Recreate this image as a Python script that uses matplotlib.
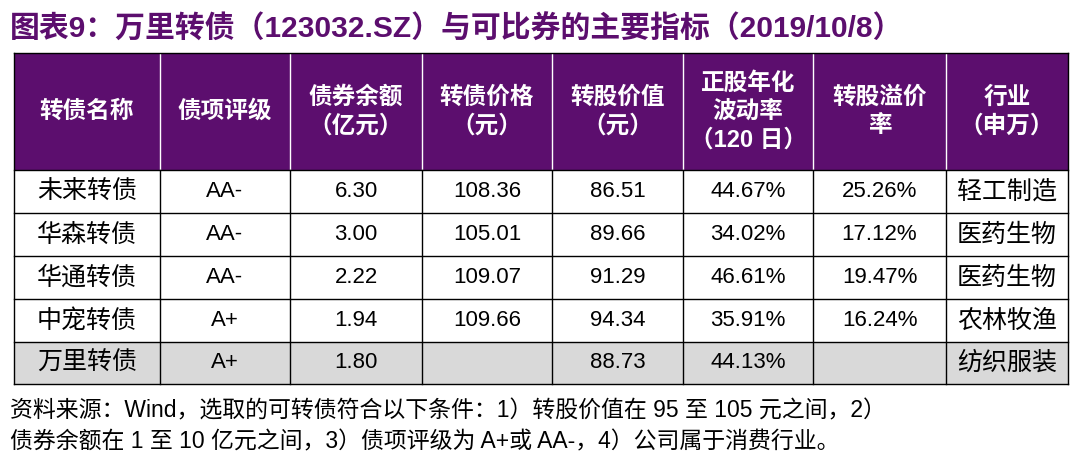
import matplotlib
matplotlib.use("Agg")
import matplotlib.pyplot as plt
from matplotlib.patches import Rectangle

title = "图表9：万里转债（123032.SZ）与可比券的主要指标（2019/10/8）"
headers = ["转债名称", "债项评级", "债券余额\n（亿元）", "转债价格\n（元）", "转股价值\n（元）",
           "正股年化\n波动率\n（120 日）", "转股溢价\n率", "行业\n（申万）"]
names = ["未来转债", "华森转债", "华通转债", "中宠转债", "万里转债"]
ratings = ["AA-", "AA-", "AA-", "A+", "A+"]
balance = ["6.30", "3.00", "2.22", "1.94", "1.80"]
price = ["108.36", "105.01", "109.07", "109.66", ""]
conv_value = ["86.51", "89.66", "91.29", "94.34", "88.73"]
vol = ["44.67%", "34.02%", "46.61%", "35.91%", "44.13%"]
premium = ["25.26%", "17.12%", "19.47%", "16.24%", ""]
industry = ["轻工制造", "医药生物", "医药生物", "农林牧渔", "纺织服装"]
notes = ["资料来源：Wind，选取的可转债符合以下条件：1）转股价值在 95 至 105 元之间，2）",
         "债券余额在 1 至 10 亿元之间，3）债项评级为 A+或 AA-，4）公司属于消费行业。"]

FAM = ["Liberation Sans", "Noto Sans CJK SC", "DejaVu Sans"]
plt.rcParams["font.family"] = FAM
PURPLE = "#5C0E6E"

fig = plt.figure(figsize=(10.8, 4.67), dpi=100)
ax = fig.add_axes([0, 0, 1, 1])
ax.set_xlim(0, 1080); ax.set_ylim(467, 0); ax.axis("off")

ax.text(10, 29, title, color=PURPLE, fontsize=21.5, fontweight="bold", va="center", ha="left")

cols = [14, 160, 290, 422, 552, 683, 813, 946, 1068]
rows = [53, 170, 213, 256, 299, 342, 384]
ax.add_patch(Rectangle((cols[0], rows[0]), cols[-1]-cols[0], rows[1]-rows[0], color=PURPLE, lw=0))
ax.add_patch(Rectangle((cols[0], rows[5]), cols[-1]-cols[0], rows[6]-rows[5], color="#D9D9D9", lw=0))
for i, h in enumerate(headers):
    ax.text((cols[i]+cols[i+1])/2, (rows[0]+rows[1])/2, h, color="white", fontsize=17,
            fontweight="bold", ha="center", va="center", linespacing=1.3)
for x in cols[1:-1]:
    ax.plot([x, x], [rows[0], rows[1]], color="white", lw=1)
data = list(zip(names, ratings, balance, price, conv_value, vol, premium, industry))
for r, rowvals in enumerate(data):
    yc = (rows[r+1]+rows[r+2])/2
    for c, v in enumerate(rowvals):
        fs = 18 if c in (0, 7) else 16
        ax.text((cols[c]+cols[c+1])/2, yc, v, fontsize=fs, ha="center", va="center", color="black")
for y in rows[1:]:
    ax.plot([cols[0], cols[-1]], [y, y], color="black", lw=1)
ax.plot([cols[0], cols[-1]], [rows[0], rows[0]], color="black", lw=1)
for x in cols:
    lo = rows[0] if x in (cols[0], cols[-1]) else rows[1]
    ax.plot([x, x], [lo, rows[-1]], color="black", lw=1)
for k, n in enumerate(notes):
    ax.text(10, 411 + k*31, n, fontsize=16.5, ha="left", va="center", color="black")

fig.savefig("out.png", dpi=100)
